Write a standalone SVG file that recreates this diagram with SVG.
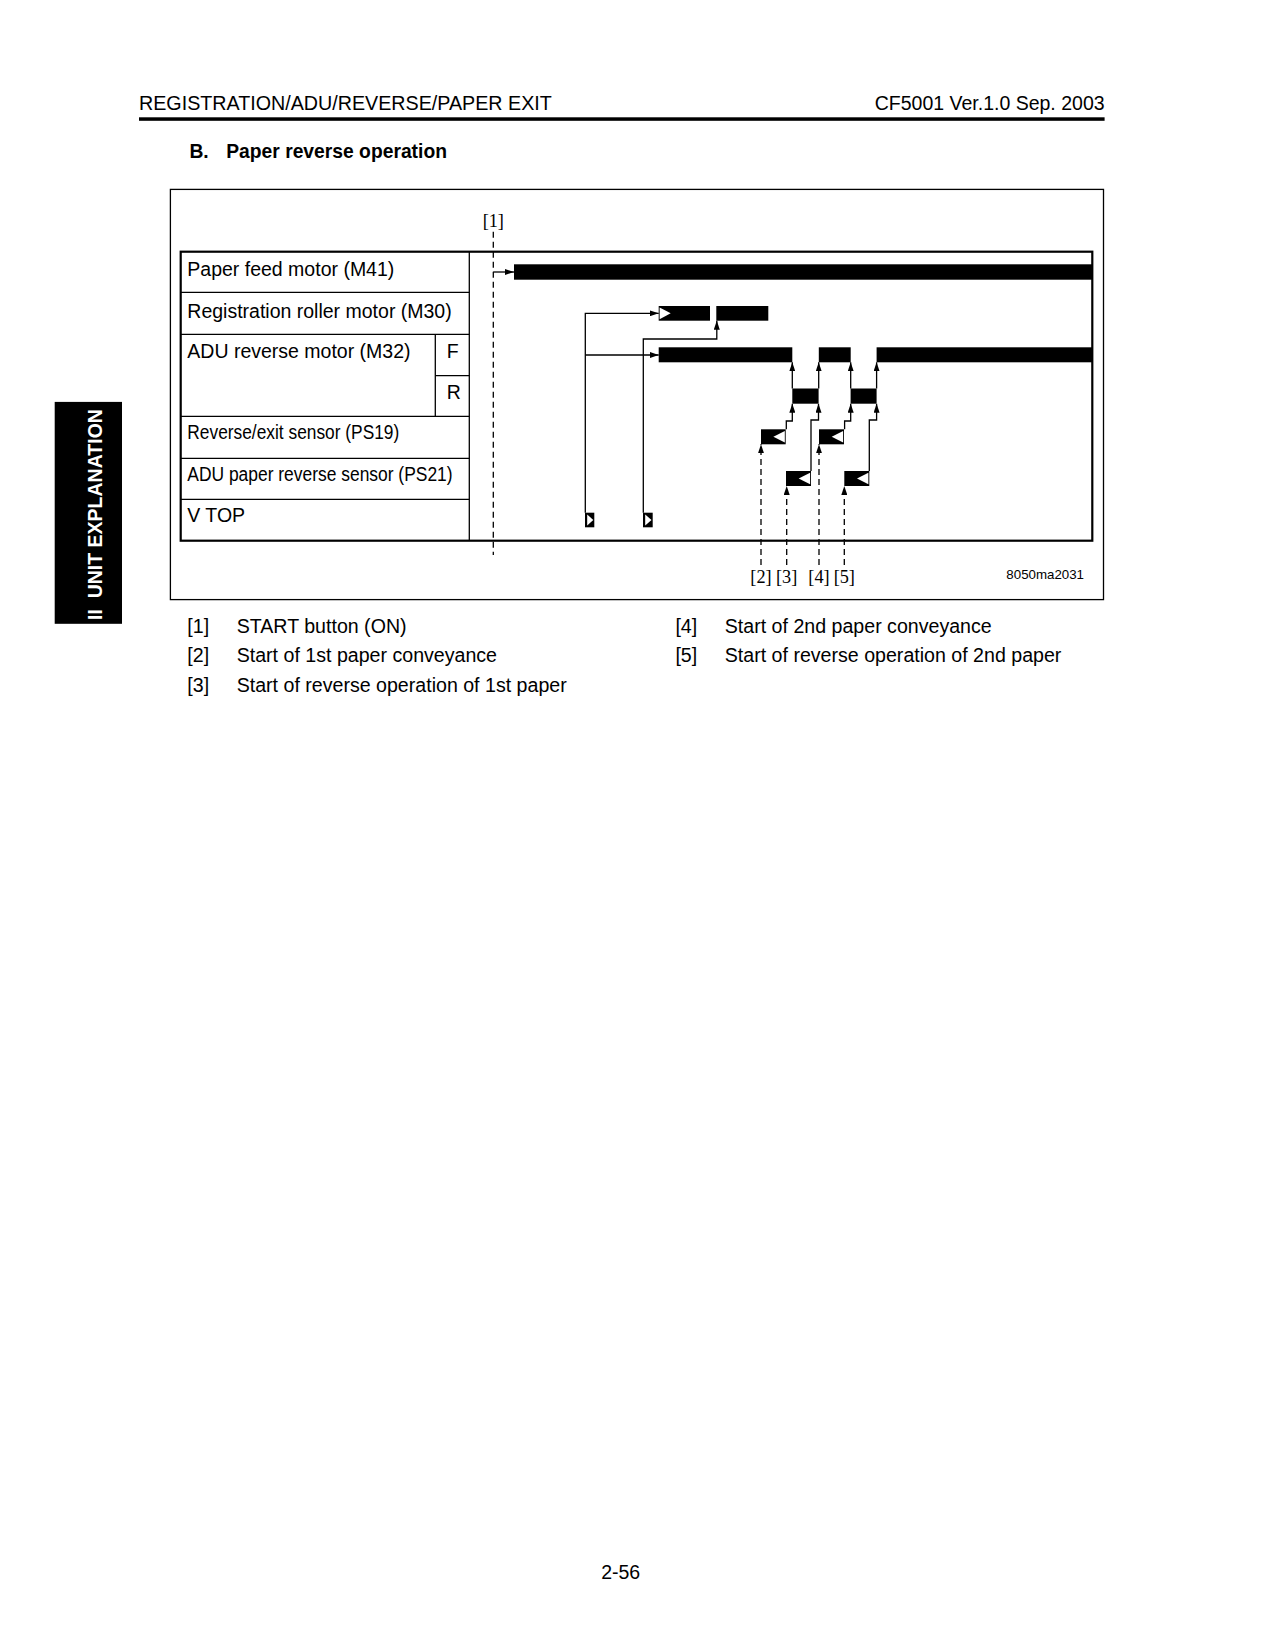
<svg xmlns="http://www.w3.org/2000/svg" width="1275" height="1650" viewBox="0 0 1275 1650">
<style>
  .sans { font-family: "Liberation Sans", Arial, sans-serif; fill: #000; }
  .serif { font-family: "Liberation Serif", "Times New Roman", serif; fill: #000; }
  .lbl { font-size: 19.5px; }
  .leg { font-size: 19.6px; }
  .ref { font-size: 18.3px; }
  .bar { fill: #000; }
  .tri { fill: #fff; }
  .ln { fill: none; stroke: #000; stroke-width: 1.3; }
  .dash { fill: none; stroke: #000; stroke-width: 1.3; stroke-dasharray: 6 4; }
  .cell { fill: none; stroke: #000; stroke-width: 1.3; }
</style>
<defs>
  <marker id="ah" markerUnits="userSpaceOnUse" markerWidth="9" markerHeight="6" refX="9" refY="3" orient="auto">
    <path d="M0,0 L9,3 L0,6 z" fill="#000"/>
  </marker>
</defs>
<rect width="1275" height="1650" fill="#fff"/>

<!-- header -->
<g id="header">
  <text class="sans" x="139" y="110" font-size="19.7">REGISTRATION/ADU/REVERSE/PAPER EXIT</text>
  <text class="sans" x="1104.6" y="110" font-size="19.5" text-anchor="end">CF5001 Ver.1.0 Sep. 2003</text>
  <rect x="139" y="117.3" width="965.6" height="3.5" fill="#000"/>
  <text class="sans" x="189.4" y="157.5" font-size="19.3" font-weight="bold">B.</text>
  <text class="sans" x="226.2" y="157.5" font-size="19.3" font-weight="bold">Paper reverse operation</text>
</g>

<!-- side tab -->
<g id="side-tab">
  <rect x="54.7" y="401.9" width="67.3" height="221.9" fill="#000"/>
  <text class="sans" transform="translate(101.7,620) rotate(-90)" font-size="19.5" font-weight="bold" style="fill:#fff" xml:space="preserve">II  UNIT EXPLANATION</text>
</g>

<!-- outer frame -->
<rect id="frame" x="170.4" y="189.4" width="933.1" height="410.2" fill="none" stroke="#000" stroke-width="1.3"/>

<!-- table -->
<g id="table">
  <rect x="180.7" y="251.7" width="911.6" height="289" fill="none" stroke="#000" stroke-width="2.2"/>
  <line class="cell" x1="469.3" y1="251.7" x2="469.3" y2="540.7"/>
  <line class="cell" x1="180.7" y1="292.3" x2="469.3" y2="292.3"/>
  <line class="cell" x1="180.7" y1="334.3" x2="469.3" y2="334.3"/>
  <line class="cell" x1="435.3" y1="375.7" x2="469.3" y2="375.7"/>
  <line class="cell" x1="435.3" y1="334.3" x2="435.3" y2="416.3"/>
  <line class="cell" x1="180.7" y1="416.3" x2="469.3" y2="416.3"/>
  <line class="cell" x1="180.7" y1="458.3" x2="469.3" y2="458.3"/>
  <line class="cell" x1="180.7" y1="499.3" x2="469.3" y2="499.3"/>
</g>

<g id="row-m41"><text class="sans lbl" x="187.3" y="276">Paper feed motor (M41)</text></g>
<g id="row-m30"><text class="sans lbl" x="187.3" y="317.7">Registration roller motor (M30)</text></g>
<g id="row-m32">
  <text class="sans lbl" x="187.3" y="357.7">ADU reverse motor (M32)</text>
  <text class="sans lbl" x="446.7" y="357.7">F</text>
  <text class="sans lbl" x="446.7" y="399">R</text>
</g>
<g id="row-ps19"><text class="sans lbl" x="187.3" y="439" textLength="212" lengthAdjust="spacingAndGlyphs">Reverse/exit sensor (PS19)</text></g>
<g id="row-ps21"><text class="sans lbl" x="187.3" y="481" textLength="265.3" lengthAdjust="spacingAndGlyphs">ADU paper reverse sensor (PS21)</text></g>
<g id="row-vtop"><text class="sans lbl" x="187.3" y="521.7">V TOP</text></g>

<!-- signal bars -->
<g id="sig-m41"><rect class="bar" x="514" y="264.3" width="578.3" height="15.4"/></g>
<g id="sig-m30">
  <rect class="bar" x="658.7" y="306" width="51.3" height="14.7"/>
  <polygon class="tri" points="659.6,307.6 670.7,313.3 659.6,319.2"/>
  <rect class="bar" x="716.3" y="306" width="52" height="14.7"/>
</g>
<g id="sig-m32-f">
  <rect class="bar" x="658.7" y="347.3" width="133.6" height="15"/>
  <rect class="bar" x="818.8" y="347.3" width="31.9" height="15"/>
  <rect class="bar" x="876.6" y="347.3" width="215.7" height="15"/>
</g>
<g id="sig-m32-r">
  <rect class="bar" x="792.3" y="388.5" width="26.3" height="15.2"/>
  <rect class="bar" x="850.6" y="388.5" width="26" height="15.2"/>
</g>
<g id="sig-ps19">
  <rect class="bar" x="761" y="429.3" width="24.7" height="15"/>
  <polygon class="tri" points="784.8,431 784.8,442.6 773.4,436.8"/>
  <rect class="bar" x="819" y="429.3" width="25" height="15"/>
  <polygon class="tri" points="843.1,431 843.1,442.6 831.7,436.8"/>
</g>
<g id="sig-ps21">
  <rect class="bar" x="786" y="471" width="25" height="15"/>
  <polygon class="tri" points="810.1,472.7 810.1,484.3 798.7,478.5"/>
  <rect class="bar" x="844.3" y="471" width="25" height="15"/>
  <polygon class="tri" points="868.4,472.7 868.4,484.3 857,478.5"/>
</g>
<g id="sig-vtop">
  <rect class="bar" x="585" y="512.7" width="9.3" height="14.6"/>
  <polygon class="tri" points="587.2,514.4 593.3,520 587.2,525.6"/>
  <rect class="bar" x="643" y="512.7" width="9.7" height="14.6"/>
  <polygon class="tri" points="645.2,514.4 651.5,520 645.2,525.6"/>
</g>

<!-- connectors -->
<g id="connectors">
  <line class="dash" x1="493.3" y1="231.7" x2="493.3" y2="555"/>
  <path class="ln" d="M493.3,272 H514" marker-end="url(#ah)"/>
  <path class="ln" d="M585.3,512.7 V313.3 H658.7" marker-end="url(#ah)"/>
  <path class="ln" d="M585.3,355 H658.7" marker-end="url(#ah)"/>
  <path class="ln" d="M643.3,512.7 V339 H716.8 V320.7" marker-end="url(#ah)"/>
  <path class="ln" d="M792.3,388.5 V362.3" marker-end="url(#ah)"/>
  <path class="ln" d="M818.7,388.5 V362.3" marker-end="url(#ah)"/>
  <path class="ln" d="M850.7,388.5 V362.3" marker-end="url(#ah)"/>
  <path class="ln" d="M876.6,388.5 V362.3" marker-end="url(#ah)"/>
  <path class="ln" d="M786.3,429.3 V421 H792.3 V403.7" marker-end="url(#ah)"/>
  <path class="ln" d="M811,471 V420 H818.5 V403.7" marker-end="url(#ah)"/>
  <path class="ln" d="M844.6,429.3 V421 H850.7 V403.7" marker-end="url(#ah)"/>
  <path class="ln" d="M869.3,471 V420 H876.6 V403.7" marker-end="url(#ah)"/>
  <path class="dash" d="M761,565 V444.3" marker-end="url(#ah)"/>
  <path class="dash" d="M786.7,565 V486" marker-end="url(#ah)"/>
  <path class="dash" d="M819,565 V444.3" marker-end="url(#ah)"/>
  <path class="dash" d="M844.3,565 V486" marker-end="url(#ah)"/>
</g>

<!-- reference labels -->
<g id="refs">
  <text class="serif ref" x="493.3" y="226.7" text-anchor="middle">[1]</text>
  <text class="serif ref" x="761" y="583" text-anchor="middle">[2]</text>
  <text class="serif ref" x="786.7" y="583" text-anchor="middle">[3]</text>
  <text class="serif ref" x="819" y="583" text-anchor="middle">[4]</text>
  <text class="serif ref" x="844.3" y="583" text-anchor="middle">[5]</text>
  <text class="sans" x="1084" y="579.3" font-size="13.3" text-anchor="end">8050ma2031</text>
</g>

<!-- legend -->
<g id="legend">
  <text class="sans leg" x="187.3" y="632.7">[1]</text>
  <text class="sans leg" x="236.7" y="632.7">START button (ON)</text>
  <text class="sans leg" x="187.3" y="662.2">[2]</text>
  <text class="sans leg" x="236.7" y="662.2">Start of 1st paper conveyance</text>
  <text class="sans leg" x="187.3" y="691.7">[3]</text>
  <text class="sans leg" x="236.7" y="691.7">Start of reverse operation of 1st paper</text>
  <text class="sans leg" x="675.4" y="632.7">[4]</text>
  <text class="sans leg" x="724.8" y="632.7">Start of 2nd paper conveyance</text>
  <text class="sans leg" x="675.4" y="662.2">[5]</text>
  <text class="sans leg" x="724.8" y="662.2">Start of reverse operation of 2nd paper</text>
</g>

<g id="footer">
  <text class="sans" x="620.7" y="1578.5" font-size="19.5" text-anchor="middle">2-56</text>
</g>
</svg>
